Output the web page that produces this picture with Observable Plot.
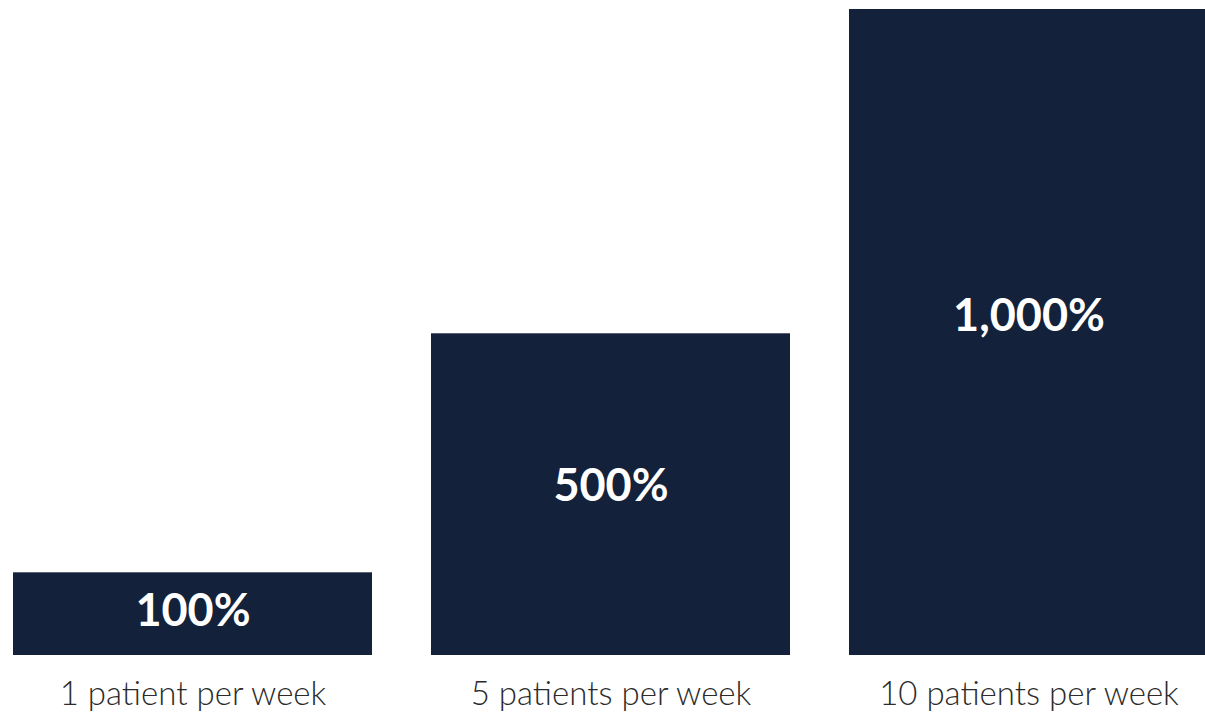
<!DOCTYPE html>
<html>
<head>
<meta charset="utf-8">
<script src="https://cdn.jsdelivr.net/npm/d3@7"></script>
<script src="https://cdn.jsdelivr.net/npm/@observablehq/plot@0.6"></script>
<style>
  html, body { margin: 0; padding: 0; background: #fff; overflow: hidden; }
  #chart svg { display: block; }
</style>
</head>
<body>
<div id="chart"></div>
<script>
const categories = ["1 patient per week", "5 patients per week", "10 patients per week"];
const barHeights = [128, 498, 1000];
const valueLabels = ["100%", "500%", "1,000%"];

const data = categories.map((c, i) => ({ category: c, h: barHeights[i], label: valueLabels[i] }));

const fontFamily = "'Source Sans Pro', Lato, 'Open Sans', sans-serif";

const chart = Plot.plot({
  width: 1205,
  height: 713,
  marginLeft: 12,
  marginRight: -4,
  marginTop: 9,
  marginBottom: 58,
  style: { fontFamily, background: "#fff", overflow: "hidden" },
  x: { domain: categories, padding: 0.14, paddingOuter: 0, label: null, axis: null },
  y: { domain: [0, 1000], axis: null },
  marks: [
    Plot.barY(data, { x: "category", y: "h", fill: "#13213a" }),
    Plot.text(data, {
      x: "category", y: d => d.h * 0.525, text: "label",
      fill: "#fff", fontSize: 45, fontWeight: 700, fontFamily
    }),
    Plot.axisX({
      domain: categories, tickSize: 0, tickPadding: 26, label: null,
      fontSize: 33, fontWeight: 300, fill: "#2b2b2b", fontFamily
    })
  ]
});
document.getElementById("chart").append(chart);
</script>
</body>
</html>
